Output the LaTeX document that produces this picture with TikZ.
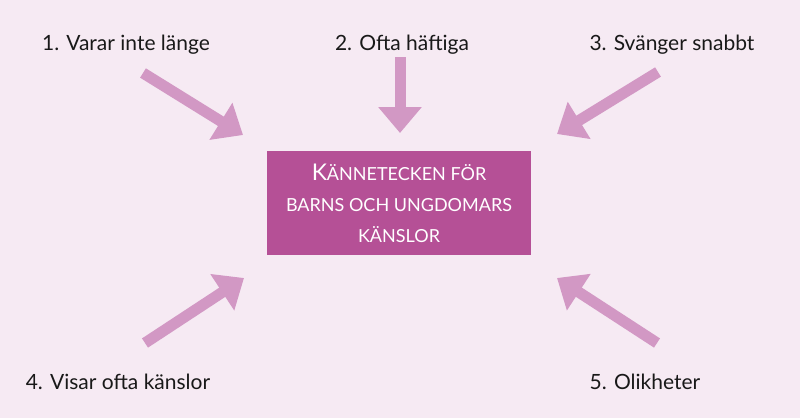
\documentclass[tikz,border=0pt]{standalone}
\usepackage{fontspec}
\setmainfont{Lato}
\usetikzlibrary{arrows.meta}
\definecolor{bg}{RGB}{246,234,243}
\definecolor{boxfill}{RGB}{181,80,150}
\definecolor{arrowc}{RGB}{210,152,196}
\newcommand{\bigK}[1]{{\fontsize{23}{27}\selectfont #1}}
\tikzset{
  lbl/.style={anchor=base, font=\fontsize{21}{25}\selectfont, text=black!90},
  boxtxt/.style={anchor=base, text=white, font=\fontsize{18}{22}\selectfont},
  bigarrow/.style={draw=arrowc, line width=11pt,
    -{Triangle[length=26pt,width=42pt]}, arrowc},
  mainbox/.style={fill=boxfill, draw=none, minimum width=264pt, minimum height=104pt,
    inner sep=0pt}
}
\begin{document}
\begin{tikzpicture}[x=1pt,y=-1pt]
\fill[bg] (0,0) rectangle (800,418);
\useasboundingbox (0,0) rectangle (800,418);
\node[mainbox] (box) at (399,203) {};
\node[boxtxt] (t1) at (399,180) {\bigK{K}ÄNNETECKEN FÖR};
\node[boxtxt] (t2) at (399,211) {BARNS OCH UNGDOMARS};
\node[boxtxt] (t3) at (399,242) {KÄNSLOR};
\node[lbl] (l1) at (126,50) {1. Varar inte länge};
\node[lbl] (l2) at (402,50) {2. Ofta häftiga};
\node[lbl] (l3) at (672,50) {3. Svänger snabbt};
\node[lbl] (l4) at (118,389) {4. Visar ofta känslor};
\node[lbl] (l5) at (645,389) {5. Olikheter};
\coordinate (a1s) at (143,73);
\coordinate (a1e) at (243,135);
\coordinate (a2s) at (400,57);
\coordinate (a2e) at (400,133);
\coordinate (a3s) at (658,72);
\coordinate (a3e) at (557,134);
\coordinate (a4s) at (145,343);
\coordinate (a4e) at (244,278);
\coordinate (a5s) at (657,343);
\coordinate (a5e) at (557,278);
\draw[bigarrow] (a1s) -- (a1e);
\draw[bigarrow] (a2s) -- (a2e);
\draw[bigarrow] (a3s) -- (a3e);
\draw[bigarrow] (a4s) -- (a4e);
\draw[bigarrow] (a5s) -- (a5e);
\end{tikzpicture}
\end{document}
